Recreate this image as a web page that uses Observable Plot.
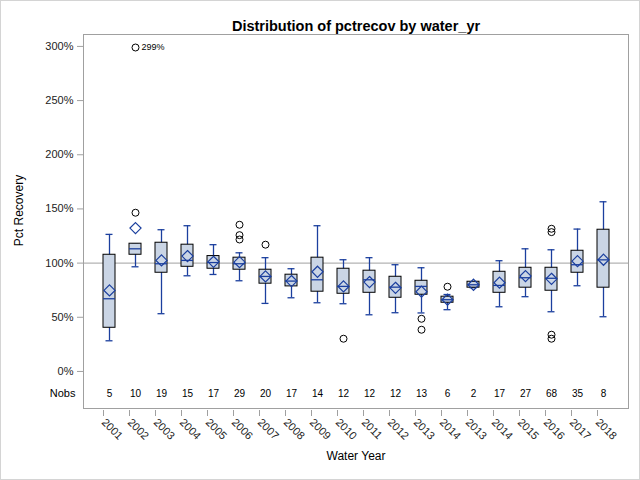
<!DOCTYPE html>
<html>
<head>
<meta charset="utf-8">
<script src="https://cdn.jsdelivr.net/npm/d3@7"></script>
<script src="https://cdn.jsdelivr.net/npm/@observablehq/plot@0.6"></script>
<style>
  body { margin: 0; background: #fff; }
  #chart svg { outline: 1px solid #d4d4d4; outline-offset: -1px; }
</style>
</head>
<body>
<div id="chart"></div>
<script>
const yearLabels = ["2001","2002","2003","2004","2005","2006","2007","2008","2009","2010","2011","2012","2013","2014","2013","2014","2015","2016","2017","2018"];
const nobs      = [5, 10, 19, 15, 17, 29, 20, 17, 14, 12, 12, 12, 13, 6, 2, 17, 27, 68, 35, 8];
const whiskerLo = [28.3, 96.6, 53.3, 88.3, 89.5, 83.7, 62.8, 68.0, 63.4, 62.5, 52.3, 54.2, 54.0, 57.0, 77.3, 59.7, 69.0, 55.1, 79.1, 50.5];
const q1        = [40.3, 107.7, 91.1, 96.6, 94.8, 93.9, 81.0, 78.5, 73.6, 71.7, 72.6, 68.0, 70.8, 63.4, 77.3, 72.6, 77.3, 74.5, 91.1, 77.3];
const median    = [67.1, 113.2, 99.4, 102.5, 100.5, 99.4, 87.7, 83.4, 84.6, 78.5, 84.6, 77.8, 78.5, 66.2, 80.0, 79.4, 86.5, 86.0, 98.5, 103.0];
const q3        = [107.7, 117.9, 118.8, 117.0, 106.5, 105.0, 93.9, 89.3, 105.0, 94.8, 93.0, 87.4, 83.7, 69.0, 82.8, 92.0, 95.7, 95.7, 111.4, 130.8];
const whiskerHi = [126.5, 117.9, 130.8, 134.5, 117.0, 109.5, 105.0, 94.8, 134.5, 103.1, 105.0, 98.5, 95.7, 71.0, 82.8, 102.2, 113.2, 112.3, 131.4, 156.6];
const meanVal   = [74.8, 132.3, 102.5, 106.5, 101.2, 100.9, 87.7, 83.4, 92.0, 78.5, 82.5, 77.2, 73.6, 66.2, 80.0, 81.9, 88.0, 85.5, 101.8, 103.1];
const outlierIdx = [1, 1, 5, 5, 5, 6, 9, 12, 12, 13, 17, 17, 17, 17];
const outlierVal = [299, 146.5, 135.4, 125.8, 121.8, 117.0, 30.2, 48.6, 38.5, 78.2, 131.7, 128.6, 33.9, 30.2];
const yTicks = [0, 50, 100, 150, 200, 250, 300];

const boxes = yearLabels.map((label, i) => ({
  i, label, n: nobs[i], lo: whiskerLo[i], q1: q1[i], med: median[i], q3: q3[i], hi: whiskerHi[i], mean: meanVal[i]
}));
const outliers = outlierIdx.map((i, k) => ({i, v: outlierVal[k]}));

const blue = "#1b3f9e";
const font = "'Liberation Sans', Arial, sans-serif";

const chart = Plot.plot({
  width: 640,
  height: 480,
  marginTop: 34,
  marginBottom: 72,
  marginLeft: 83,
  marginRight: 12,
  style: {fontFamily: font, fontSize: "11px", color: "#222", background: "#fff"},
  x: {type: "band", domain: d3.range(yearLabels.length), paddingInner: 0.55, paddingOuter: 0.486, axis: null},
  y: {domain: [-34.2, 311], axis: null},
  marks: [
    Plot.ruleY([100], {stroke: "#a0a0a0", strokeWidth: 1}),
    Plot.frame({stroke: "#a0a0a0"}),
    Plot.axisY({ticks: yTicks, tickFormat: d => d + "%", tickSize: 6, tickPadding: 4, label: null, stroke: "#a0a0a0", fontSize: 11}),
    Plot.axisX({tickFormat: i => yearLabels[i], tickRotate: 45, tickSize: 6, tickPadding: 4, dx: -6, dy: 2, label: null, stroke: "#a0a0a0", fontSize: 11}),
    Plot.ruleX(boxes, {x: "i", y1: "lo", y2: "hi", stroke: blue, strokeWidth: 1.3}),
    Plot.tickY(boxes, {x: "i", y: "lo", stroke: blue, strokeWidth: 1.3, insetLeft: 2.5, insetRight: 2.5}),
    Plot.tickY(boxes, {x: "i", y: "hi", stroke: blue, strokeWidth: 1.3, insetLeft: 2.5, insetRight: 2.5}),
    Plot.barY(boxes, {x: "i", y1: "q1", y2: "q3", fill: "#cad5e5", stroke: "#000", strokeWidth: 1}),
    Plot.tickY(boxes, {x: "i", y: "med", stroke: blue, strokeWidth: 1.3}),
    Plot.dot(boxes, {x: "i", y: "mean", symbol: "diamond2", r: 5, stroke: blue, strokeWidth: 1.2, fill: "none"}),
    Plot.dot(outliers, {x: "i", y: "v", r: 3.5, stroke: "#000", strokeWidth: 1, fill: "none"}),
    Plot.text(outliers.filter(d => d.v > 200), {x: "i", y: "v", text: d => d.v + "%", dx: 6, textAnchor: "start", fontSize: 9, fill: "#000"}),
    Plot.text(boxes, {x: "i", text: "n", frameAnchor: "bottom", dy: -12, fontSize: 10, fill: "#000"}),
    Plot.text(["Nobs"], {frameAnchor: "bottom-left", dx: -8, dy: -12, textAnchor: "end", fontSize: 11, fill: "#000"}),
    Plot.text(["Pct Recovery"], {frameAnchor: "left", textAnchor: "middle", rotate: -90, dx: -64, dy: -11, fontSize: 12, fill: "#000"}),
    Plot.text(["Water Year"], {frameAnchor: "bottom", dy: 51, fontSize: 12, fill: "#000"}),
    Plot.text(["Distribution of pctrecov by water_yr"], {frameAnchor: "top", dy: -14, fontSize: 14.5, fontWeight: "bold", fill: "#000"})
  ]
});
document.getElementById("chart").appendChild(chart);
</script>
</body>
</html>
